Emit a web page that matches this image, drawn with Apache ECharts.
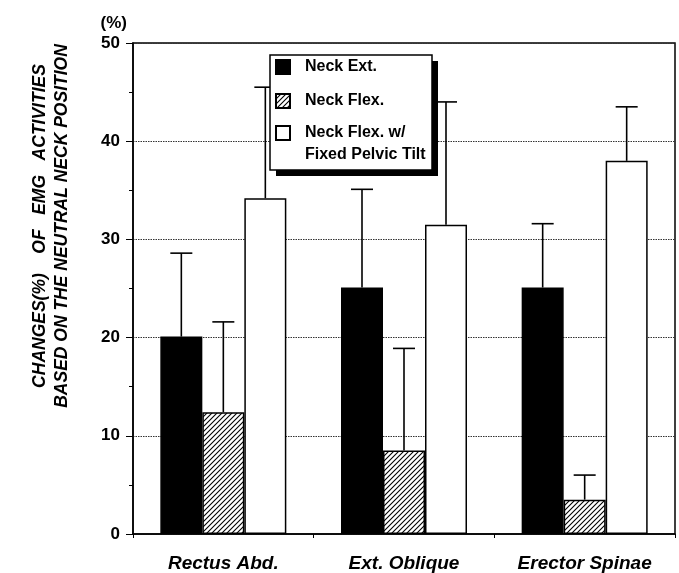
<!DOCTYPE html>
<html>
<head>
<meta charset="utf-8">
<script src="https://cdn.jsdelivr.net/npm/echarts@6/dist/echarts.min.js"></script>
<style>
html,body{margin:0;padding:0;background:#fff;}
#chart{width:679px;height:573px;}
</style>
</head>
<body>
<div id="chart"></div>
<script>
const categories = ['Rectus Abd.', 'Ext. Oblique', 'Erector Spinae'];
const seriesNames = ['Neck Ext.', 'Neck Flex.', 'Neck Flex. w/\nFixed Pelvic Tilt'];
const neckExt = [20.1, 25.1, 25.1];
const neckExtSD = [8.5, 10.0, 6.5];
const neckFlex = [12.4, 8.5, 3.5];
const neckFlexSD = [9.2, 10.4, 2.5];
const neckFlexFixed = [34.2, 31.5, 38.0];
const neckFlexFixedSD = [11.3, 12.5, 5.5];
const yTicks = { min: 0, max: 50, interval: 10 };

const BAR_W = 42;
const CAP = 11;
const FONT = 'Arial, "Liberation Sans", Helvetica, sans-serif';

// hatch pattern
const hc = document.createElement('canvas');
hc.width = 5; hc.height = 5;
const hx = hc.getContext('2d');
hx.fillStyle = '#fff'; hx.fillRect(0, 0, 5, 5);
hx.strokeStyle = '#000'; hx.lineWidth = 1.1;
hx.beginPath();
hx.moveTo(-1, 6); hx.lineTo(6, -1);
hx.moveTo(-1, 1); hx.lineTo(1, -1);
hx.moveTo(4, 6); hx.lineTo(6, 4);
hx.stroke();
const hatch = { image: hc, repeat: 'repeat' };

const fills = ['#000', hatch, '#fff'];
const means = [neckExt, neckFlex, neckFlexFixed];
const sds = [neckExtSD, neckFlexSD, neckFlexFixedSD];

const barSeries = means.map((m, k) => ({
  name: seriesNames[k],
  type: 'bar',
  data: m,
  barWidth: BAR_W,
  barGap: '0%',
  itemStyle: { color: fills[k], borderColor: '#000', borderWidth: 1.5 },
  z: 2
}));

const errSeries = means.map((m, k) => ({
  type: 'custom',
  name: 'err' + k,
  data: m.map((v, i) => [i, v, v + sds[k][i]]),
  encode: { x: 0, y: [1, 2] },
  z: 3,
  silent: true,
  renderItem: (params, api) => {
    const p0 = api.coord([api.value(0), api.value(1)]);
    const p1 = api.coord([api.value(0), api.value(2)]);
    const x = p0[0] + (k - 1) * BAR_W;
    const st = { stroke: '#000', lineWidth: 1.6 };
    return {
      type: 'group',
      children: [
        { type: 'line', shape: { x1: x, y1: p0[1], x2: x, y2: p1[1] }, style: st },
        { type: 'line', shape: { x1: x - CAP, y1: p1[1], x2: x + CAP, y2: p1[1] }, style: st }
      ]
    };
  }
}));

const legendText = { fontFamily: FONT, fontWeight: 'bold', fontSize: 16, color: '#000', lineHeight: 22, padding: [0, 0, 0, 10] };
const legendCommon = {
  orient: 'vertical',
  itemWidth: 14, itemHeight: 14,
  icon: 'rect',
  selectedMode: false,
  z: 10
};

const chart = echarts.init(document.getElementById('chart'));
chart.setOption({
  animation: false,
  backgroundColor: '#fff',
  grid: { left: 133, right: 4, top: 43, bottom: 38, show: true, borderColor: '#000', borderWidth: 1.5, backgroundColor: 'transparent' },
  legend: [
    Object.assign({}, legendCommon, {
      left: 270, top: 55, itemGap: 12,
      padding: [1, 0, 0, 5],
      textStyle: legendText,
      data: [seriesNames[0], seriesNames[1]]
    }),
    Object.assign({}, legendCommon, {
      left: 275, top: 100,
      padding: 0,
      textStyle: legendText,
      formatter: name => ' \n' + name,
      data: [seriesNames[2]]
    })
  ],
  xAxis: {
    type: 'category',
    data: categories,
    axisLine: { lineStyle: { color: '#000', width: 1.5 } },
    axisTick: { show: true, length: 4, lineStyle: { color: '#000' } },
    axisLabel: { fontFamily: FONT, fontWeight: 'bold', fontStyle: 'italic', fontSize: 19, color: '#000', margin: 20 }
  },
  yAxis: {
    type: 'value',
    min: yTicks.min, max: yTicks.max, interval: yTicks.interval,
    name: '(%)',
    nameLocation: 'end',
    nameGap: 11,
    nameTextStyle: { fontFamily: FONT, fontWeight: 'bold', fontSize: 17, color: '#000', align: 'right', padding: [0, 6, 0, 0] },
    axisLine: { show: true, lineStyle: { color: '#000', width: 1.5 } },
    axisTick: { show: true, length: 7, lineStyle: { color: '#000' } },
    minorTick: { show: true, splitNumber: 2, length: 4, lineStyle: { color: '#000' } },
    axisLabel: { fontFamily: FONT, fontWeight: 'bold', fontSize: 17, color: '#000', margin: 13 },
    splitLine: { show: true, lineStyle: { color: '#333', width: 1, type: [1.5, 1] } }
  },
  graphic: [
    {
      type: 'rect', z: 5,
      shape: { x: 276, y: 61, width: 162, height: 115 },
      style: { fill: '#000' }
    },
    {
      type: 'rect', z: 6,
      shape: { x: 270, y: 55, width: 162, height: 115 },
      style: { fill: '#fff', stroke: '#000', lineWidth: 1.5 }
    },
    {
      type: 'text',
      x: 51, y: 226,
      rotation: Math.PI / 2,
      style: {
        text: 'CHANGES(%)    OF   EMG   ACTIVITIES\nBASED ON THE NEUTRAL NECK POSITION',
        fontFamily: FONT, fontWeight: 'bold', fontStyle: 'italic', fontSize: 17.5,
        lineHeight: 22,
        fill: '#000', align: 'center', verticalAlign: 'middle'
      }
    }
  ],
  series: barSeries.concat(errSeries)
});
</script>
</body>
</html>
